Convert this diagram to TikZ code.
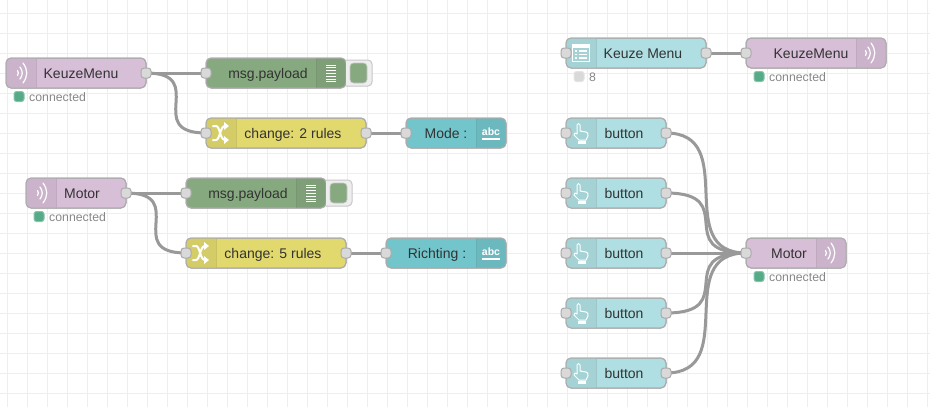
\documentclass[tikz,border=0pt]{standalone}
\usepackage{fontspec}
\setmainfont{Liberation Sans}
\usetikzlibrary{backgrounds}
\definecolor{gridc}{HTML}{EEEEEE}
\definecolor{wirec}{HTML}{999999}
\definecolor{portc}{HTML}{D9D9D9}
\definecolor{edgec}{HTML}{ABABAB}
\definecolor{mqttc}{HTML}{D8BFD8}
\definecolor{debugc}{HTML}{87A980}
\definecolor{changec}{HTML}{E2D96E}
\definecolor{uitc}{HTML}{72C5CB}
\definecolor{uibc}{HTML}{B0DFE3}
\definecolor{okc}{HTML}{55AA88}
\tikzset{
 x=1pt,y=-1pt,
 nrbody/.style={draw=edgec,line width=1pt,rounded corners=5pt,minimum height=30pt,inner sep=0pt,outer sep=0pt},
 nrport/.style={draw=edgec,fill=portc,line width=1pt,rounded corners=3pt,minimum width=10pt,minimum height=10pt,inner sep=0pt,outer sep=0pt},
 nrtext/.style={text=black!80,font=\fontsize{14}{16}\selectfont,inner sep=0pt,anchor=base},
 nrstat/.style={text=black!47,font=\fontsize{12.3}{14}\selectfont,inner sep=0pt,anchor=base west},
 nrdot/.style={rounded corners=2.5pt,minimum width=10pt,minimum height=10pt,inner sep=0pt,outer sep=0pt,line width=1pt},
 wire/.style={draw=wirec,line width=3pt,line cap=round},
 ico/.style={draw=white,line width=1pt,line cap=round,line join=round},
}
% name, left x, top y, width, colour, icon side (l/r)
\newcommand{\nrbox}[6]{%
 \node[nrbody,fill=#5,minimum width=#4 pt] (#1) at ({#2+#4/2},{#3+15}) {};
 \begin{scope}
  \clip[rounded corners=5pt] (#2,#3) rectangle ({#2+#4},{#3+30});
  \if l#6
   \fill[#5!94!black] (#2,#3) rectangle ({#2+30},{#3+30});
   \fill[#5!89!black] ({#2+29.5},#3) rectangle ({#2+30.5},{#3+30});
  \else
   \fill[#5!94!black] ({#2+#4-30},#3) rectangle ({#2+#4},{#3+30});
   \fill[#5!89!black] ({#2+#4-30.5},#3) rectangle ({#2+#4-29.5},{#3+30});
  \fi
 \end{scope}
 \draw[edgec,line width=1pt,rounded corners=5pt] (#2,#3) rectangle ({#2+#4},{#3+30});
}
\newcommand{\icowifi}[2]{% centre
 \draw[ico,line width=1.2pt] ({#1-3.5},{#2-2.5}) .. controls ({#1-2.3},{#2-1}) and ({#1-2.3},{#2+1}) .. ({#1-3.5},{#2+2.5});
 \draw[ico,line width=1.2pt] ({#1-1},{#2-6}) .. controls ({#1+2},{#2-2}) and ({#1+2},{#2+2}) .. ({#1-1},{#2+6});
 \draw[ico,line width=1.2pt] ({#1+2},{#2-10}) .. controls ({#1+7},{#2-3}) and ({#1+7},{#2+3}) .. ({#1+2},{#2+10});
}
\newcommand{\icolines}[2]{%
 \foreach \d in {-8,-5.2,-2.4,0.4,3.2,6,8.8}{\draw[white,line width=1pt] ({#1-5},{#2+\d}) -- ({#1+5},{#2+\d});}
}
\newcommand{\icoshuffle}[2]{%
 \draw[ico,line width=2pt] ({#1-8},{#2-7}) -- ({#1-5},{#2-7}) .. controls ({#1-1},{#2-7}) and ({#1-1},{#2+7}) .. ({#1+4},{#2+7});
 \draw[ico,line width=2pt] ({#1-8},{#2+7}) -- ({#1-5},{#2+7}) .. controls ({#1-1},{#2+7}) and ({#1-1},{#2-7}) .. ({#1+4},{#2-7});
 \fill[white] ({#1+3},{#2-11}) -- ({#1+8},{#2-7}) -- ({#1+3},{#2-3}) -- cycle;
 \fill[white] ({#1+3},{#2+3}) -- ({#1+8},{#2+7}) -- ({#1+3},{#2+11}) -- cycle;
}
\newcommand{\icoabc}[2]{%
 \node[text=white,inner sep=0pt,font=\fontsize{10.5}{11}\bfseries\selectfont] at (#1,{#2-1}) {abc};
 \draw[white,line width=1.6pt] ({#1-9},{#2+6}) -- ({#1+9},{#2+6});
}
\newcommand{\icolist}[2]{%
 \fill[white] ({#1-9},{#2-9}) rectangle ({#1+9},{#2+9});
 \fill[uibc!94!black] ({#1-8},{#2-5}) rectangle ({#1+8},{#2+8});
 \foreach \d in {-2,1.5,5}{
  \fill[white] ({#1-6},{#2+\d-.6}) rectangle ({#1-4},{#2+\d+.6});
  \fill[white] ({#1-2},{#2+\d-.6}) rectangle ({#1+6},{#2+\d+.6});
 }
}
\newcommand{\icohand}[2]{%
 \draw[ico] ({#1-4},{#2+1}) -- ({#1-4},{#2-8}) .. controls ({#1-4},{#2-10}) and ({#1-1},{#2-10}) .. ({#1-1},{#2-8}) -- ({#1-1},{#2-2}) -- ({#1+5},{#2-1}) .. controls ({#1+7},{#2-1}) and ({#1+7},{#2+1}) .. ({#1+7},{#2+3}) -- ({#1+5},{#2+7}) -- ({#1-2},{#2+7}) -- ({#1-7},{#2+2}) -- ({#1-6},{#2}) -- ({#1-4},{#2+1});
 \fill[white] ({#1-3},{#2+8}) rectangle ({#1+5},{#2+11});
}
\newcommand{\nrbtn}[3]{% name x y
 \nrbox{#1}{#2}{#3}{100}{uibc}{l}
 \icohand{#2+15}{#3+15}
 \node[nrtext] (#1-t) at ({#2+58},{#3+20}) {button};
 \node[nrport] (#1-i) at (#2,{#3+15}) {};
 \node[nrport] (#1-o) at ({#2+100},{#3+15}) {};
}
\newcommand{\nrdbg}[4]{% name x y width
 \nrbox{#1}{#2}{#3}{#4}{debugc}{r}
 \icolines{#2+#4-15}{#3+15}
 \node[nrtext] (#1-t) at ({#2+62},{#3+20}) {msg.payload};
 \node[nrport] (#1-i) at (#2,{#3+15}) {};
 \draw[draw=black!22,fill=gridc,line width=1pt,rounded corners=4pt] ({#2+#4},{#3+2}) -- ({#2+#4+26},{#3+2}) -- ({#2+#4+26},{#3+28}) -- ({#2+#4},{#3+28});
 \node[fill=debugc,draw=black!22,line width=.6pt,rounded corners=3.5pt,minimum width=17pt,minimum height=20pt,inner sep=0pt] (#1-b) at ({#2+#4+12.5},{#3+15}) {};
}
\begin{document}
\begin{tikzpicture}
\useasboundingbox (0,0) rectangle (930,407);
\begin{scope}[on background layer]
 \fill[white] (0,0) rectangle (930,407);
 \foreach \gx in {7,27,...,927}{\draw[gridc,line width=1pt] (\gx,0) -- (\gx,407);}
 \foreach \gy in {13,33,...,393}{\draw[gridc,line width=1pt] (0,\gy) -- (930,\gy);}
\end{scope}

% left top
\nrbox{kmin}{6}{58}{140}{mqttc}{l}
\icowifi{21}{73}
\node[nrtext] (kmin-t) at (81,78) {KeuzeMenu};
\node[nrport] (kmin-o) at (146,73) {};
\node[nrdot,fill=okc,draw=okc!70!white] (kmin-d) at (19,96.5) {};
\node[nrstat] (kmin-s) at (29,101) {connected};

\nrdbg{dbgA}{206}{58}{140}

\nrbox{chA}{206}{118}{160}{changec}{l}
\icoshuffle{221}{133}
\node[nrtext] (chA-t) at (293,138) {change: 2 rules};
\node[nrport] (chA-i) at (206,133) {};
\node[nrport] (chA-o) at (366,133) {};

\nrbox{mode}{406}{118}{100}{uitc}{r}
\icoabc{491}{133}
\node[nrtext] (mode-t) at (446,138) {Mode :};
\node[nrport] (mode-i) at (406,133) {};

% left bottom
\nrbox{moin}{26}{178}{100}{mqttc}{l}
\icowifi{41}{193}
\node[nrtext] (moin-t) at (82,198) {Motor};
\node[nrport] (moin-o) at (126,193) {};
\node[nrdot,fill=okc,draw=okc!70!white] (moin-d) at (39,216.5) {};
\node[nrstat] (moin-s) at (49,221) {connected};

\nrdbg{dbgB}{186}{178}{140}

\nrbox{chB}{186}{238}{160}{changec}{l}
\icoshuffle{201}{253}
\node[nrtext] (chB-t) at (273,258) {change: 5 rules};
\node[nrport] (chB-i) at (186,253) {};
\node[nrport] (chB-o) at (346,253) {};

\nrbox{richt}{386}{238}{120}{uitc}{r}
\icoabc{491}{253}
\node[nrtext] (richt-t) at (437,258) {Richting :};
\node[nrport] (richt-i) at (386,253) {};

% right
\nrbox{menu}{566}{38}{140}{uibc}{l}
\icolist{581}{53}
\node[nrtext] (menu-t) at (643,58) {Keuze Menu};
\node[nrport] (menu-i) at (566,53) {};
\node[nrport] (menu-o) at (706,53) {};
\node[nrdot,fill=portc,draw=portc!70!white] (menu-d) at (579,76.5) {};
\node[nrstat] (menu-s) at (589,81) {8};

\nrbox{kmout}{746}{38}{140}{mqttc}{r}
\icowifi{869}{53}
\node[nrtext] (kmout-t) at (811,58) {KeuzeMenu};
\node[nrport] (kmout-i) at (746,53) {};
\node[nrdot,fill=okc,draw=okc!70!white] (kmout-d) at (759,76.5) {};
\node[nrstat] (kmout-s) at (769,81) {connected};

\nrbtn{b1}{566}{118}
\nrbtn{b2}{566}{178}
\nrbtn{b3}{566}{238}
\nrbtn{b4}{566}{298}
\nrbtn{b5}{566}{358}

\nrbox{moout}{746}{238}{100}{mqttc}{r}
\icowifi{829}{253}
\node[nrtext] (moout-t) at (789,258) {Motor};
\node[nrport] (moout-i) at (746,253) {};
\node[nrdot,fill=okc,draw=okc!70!white] (moout-d) at (759,276.5) {};
\node[nrstat] (moout-s) at (769,281) {connected};

\begin{scope}[on background layer]
 \draw[wire] (kmin-o.center) -- (dbgA-i.center);
 \draw[wire] (kmin-o.center) .. controls +(63.6,0) and +(-63.6,0) .. (chA-i.center);
 \draw[wire] (chA-o.center) -- (mode-i.center);
 \draw[wire] (moin-o.center) -- (dbgB-i.center);
 \draw[wire] (moin-o.center) .. controls +(63.6,0) and +(-63.6,0) .. (chB-i.center);
 \draw[wire] (chB-o.center) -- (richt-i.center);
 \draw[wire] (menu-o.center) -- (kmout-i.center);
 \draw[wire] (b3-o.center) -- (moout-i.center);
 \foreach \bb in {b1,b2,b4,b5}{
  \draw[wire] (\bb-o.center) .. controls +(75,0) and +(-75,0) .. (moout-i.center);
 }
\end{scope}
\end{tikzpicture}
\end{document}
